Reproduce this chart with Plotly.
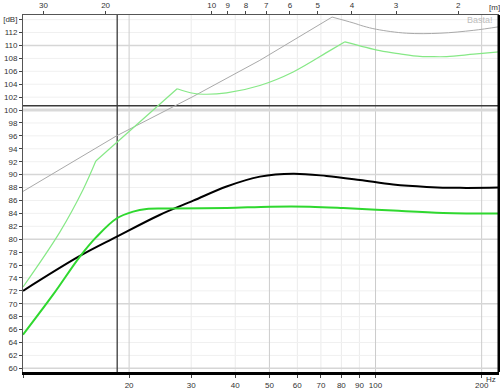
import math
import plotly.graph_objects as go

# ---------------- data ----------------
# Frequencies in Hz, levels in dB
gray_f = [10.0, 18.42, 30.38, 46.97, 75.3, 86.4, 92.3, 100.7, 122.5, 152.3, 190.0, 224.0]
gray_db = [87.4, 96.0, 102.1, 107.7, 114.4, 113.5, 113.0, 112.5, 111.9, 111.9, 112.35, 112.9]

lightgreen_f = [10.0, 12.72, 14.81, 16.09, 27.37, 30.38, 32.44, 37.8, 46.97, 58.4, 74.2, 81.9,
                102.9, 117.3, 133.6, 142.7, 159.1, 190.0, 224.0]
lightgreen_db = [72.6, 81.1, 87.7, 92.1, 103.3, 102.6, 102.45, 102.65, 103.8, 105.9, 109.2, 110.57,
                 109.2, 108.7, 108.3, 108.27, 108.27, 108.65, 109.0]

black_f = [10.0, 14.5, 18.4, 24.4, 30.4, 37.8, 47.0, 58.4, 72.6, 90.3, 112.2, 139.6, 173.6, 224.0]
black_db = [72.0, 77.4, 80.35, 83.75, 85.96, 88.16, 89.69, 90.15, 89.79, 89.17, 88.47, 88.10, 87.95, 88.0]

green_f = [10.0, 12.17, 14.5, 16.16, 18.42, 20.53, 22.41, 26.1, 37.8, 50.2, 65.1, 81.0, 112.2,
           155.6, 224.0]
green_db = [65.2, 71.4, 77.3, 80.35, 83.2, 84.27, 84.69, 84.75, 84.84, 85.04, 85.04, 84.84,
            84.43, 84.07, 83.97]

marker_freq = 18.5      # vertical cursor line (Hz)
marker_level = 100.66   # horizontal cursor line (dB)

# axes
x_min, x_max = 10.0, 224.0
y_min, y_max = 59.43, 114.72
freq_ticks = [10, 20, 30, 40, 50, 60, 70, 80, 90, 100, 200]
freq_labels = ["", "20", "30", "40", "50", "60", "70", "80", "90", "100", "200"]
freq_major = [20, 50, 100, 200]
wavelengths = [30, 20, 10, 9, 8, 7, 6, 5, 4, 3, 2]
sound_speed = 343.0
db_ticks = list(range(60, 114, 2)) + [114]
db_labels = [str(v) for v in range(60, 114, 2)] + ["[dB]"]
db_major = [60, 70, 80, 90, 110]

# ---------------- figure ----------------
fig = go.Figure()


def add_line(xs, ys, color, width, shape="linear"):
    line = dict(color=color, width=width, shape=shape)
    if shape == "spline":
        line["smoothing"] = 1.0
    fig.add_trace(go.Scatter(x=xs, y=ys, mode="lines", line=line, hoverinfo="skip"))


# gray: straight rise to a sharp peak, then smooth
gp = gray_db.index(max(gray_db))
add_line(gray_f[:gp + 1], gray_db[:gp + 1], "#a9a9a9", 1)
add_line(gray_f[gp:], gray_db[gp:], "#a9a9a9", 1, "spline")

# light green: kinks at 16 Hz, 27 Hz and 82 Hz
k1 = lightgreen_f.index(16.09)
k2 = lightgreen_f.index(27.37)
k3 = lightgreen_f.index(81.9)
add_line(lightgreen_f[:k1 + 1], lightgreen_db[:k1 + 1], "#86e886", 1.2, "spline")
add_line(lightgreen_f[k1:k2 + 1], lightgreen_db[k1:k2 + 1], "#86e886", 1.2)
add_line(lightgreen_f[k2:k3 + 1], lightgreen_db[k2:k3 + 1], "#86e886", 1.2, "spline")
add_line(lightgreen_f[k3:], lightgreen_db[k3:], "#86e886", 1.2, "spline")

add_line(black_f, black_db, "#000000", 2, "spline")
add_line(green_f, green_db, "#2fd82f", 2, "spline")

# invisible trace to activate the top (wavelength) axis
fig.add_trace(go.Scatter(x=[100], y=[80], xaxis="x2", mode="markers",
                         marker=dict(opacity=0), hoverinfo="skip"))

font = dict(family="Liberation Sans, Arial, sans-serif", size=8, color="#333333")
xr = [math.log10(x_min), math.log10(x_max)]

shapes = []
# minor grid
for f in freq_ticks:
    if f not in freq_major and f != x_min:
        shapes.append(dict(type="line", xref="x", yref="paper", x0=f, x1=f, y0=0, y1=1,
                           line=dict(color="#ebebeb", width=1), layer="below"))
for v in db_ticks:
    if v not in db_major and v != 100:
        shapes.append(dict(type="line", xref="paper", yref="y", x0=0, x1=1, y0=v, y1=v,
                           line=dict(color="#f0f0f0", width=1), layer="below"))
# major grid
for f in freq_major:
    shapes.append(dict(type="line", xref="x", yref="paper", x0=f, x1=f, y0=0, y1=1,
                       line=dict(color="#cccccc", width=1), layer="below"))
for v in db_major:
    shapes.append(dict(type="line", xref="paper", yref="y", x0=0, x1=1, y0=v, y1=v,
                       line=dict(color="#d6d6d6", width=1.5), layer="below"))
shapes.append(dict(type="line", xref="paper", yref="y", x0=0, x1=1, y0=100, y1=100,
                   line=dict(color="#d9d9d9", width=3), layer="below"))
# cursor lines
shapes.append(dict(type="line", xref="x", yref="paper", x0=marker_freq, x1=marker_freq, y0=0, y1=1,
                   line=dict(color="#3a3a3a", width=1.3), layer="below"))
shapes.append(dict(type="line", xref="paper", yref="y", x0=0, x1=1, y0=marker_level, y1=marker_level,
                   line=dict(color="#3a3a3a", width=1.5), layer="below"))
# right border
shapes.append(dict(type="line", xref="paper", yref="paper", x0=1, x1=1, y0=0, y1=1,
                   line=dict(color="#000000", width=3)))

fig.update_layout(
    width=500, height=391,
    margin=dict(l=23, r=1, t=14, b=16),
    paper_bgcolor="white", plot_bgcolor="white",
    showlegend=False,
    font=font,
    xaxis=dict(type="log", range=xr, tickvals=freq_ticks, ticktext=freq_labels,
               ticks="outside", ticklen=3, tickcolor="#444444", tickfont=font,
               showline=True, linewidth=3, linecolor="#000000",
               showgrid=False, zeroline=False),
    xaxis2=dict(type="log", range=xr, overlaying="x", side="top", anchor="y",
                tickvals=[sound_speed / w for w in wavelengths],
                ticktext=[str(w) for w in wavelengths],
                ticks="outside", ticklen=3, tickcolor="#444444", tickfont=font,
                showline=True, linewidth=1, linecolor="#555555",
                showgrid=False, zeroline=False),
    yaxis=dict(range=[y_min, y_max], tickvals=db_ticks, ticktext=db_labels,
               ticks="outside", ticklen=3, tickcolor="#444444", tickfont=font,
               showline=True, linewidth=1, linecolor="#555555",
               showgrid=False, zeroline=False),
    shapes=shapes,
    annotations=[
        dict(text="Basta!", xref="paper", yref="paper", x=0.992, y=0.985,
             xanchor="right", yanchor="middle", showarrow=False,
             font=dict(family="Liberation Sans, Arial, sans-serif", size=9, color="#bdbdbd")),
        dict(text="Hz", xref="paper", yref="paper", x=0.997, y=-0.021,
             xanchor="right", yanchor="middle", showarrow=False, font=font),
        dict(text="[m]", xref="paper", yref="paper", x=0.975, y=1.02,
             xanchor="left", yanchor="middle", showarrow=False, font=font),
    ],
)

fig.write_html("out.html")
